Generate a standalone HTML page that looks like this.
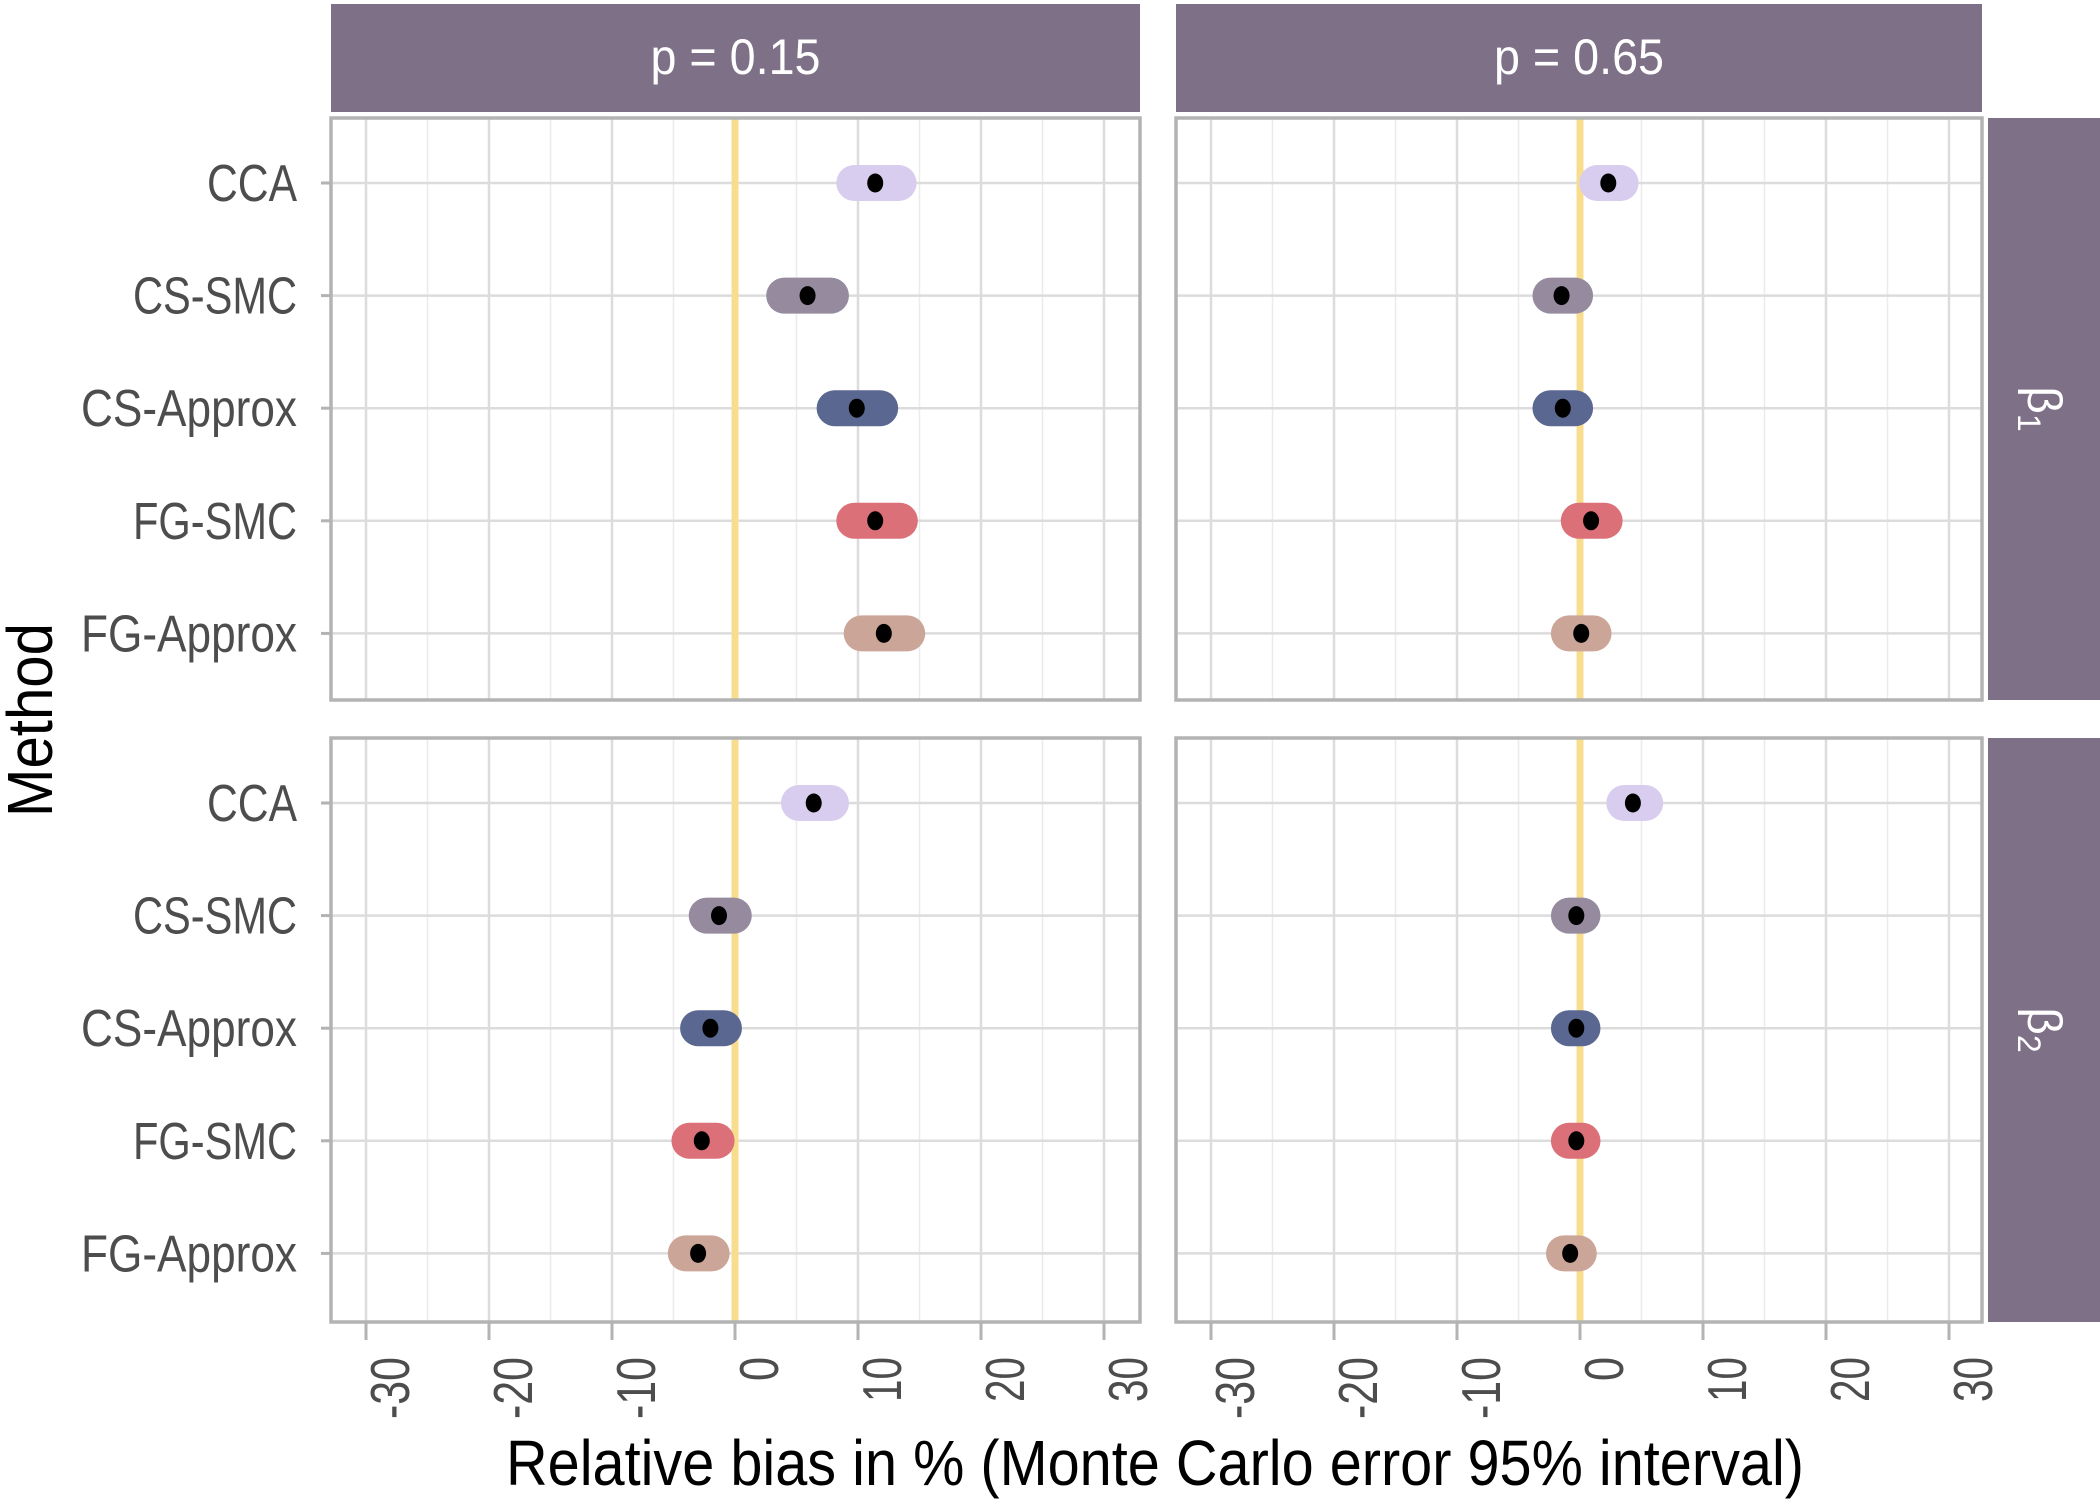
<!DOCTYPE html>
<html><head><meta charset="utf-8"><style>
html,body{margin:0;padding:0;background:#fff}
svg text{font-family:"Liberation Sans",sans-serif}
</style></head><body>
<svg id="chart" width="2100" height="1500" viewBox="0 0 2100 1500" xmlns="http://www.w3.org/2000/svg"></svg>
<script>
const methods = ["CCA","CS-SMC","CS-Approx","FG-SMC","FG-Approx"];
const methodColors = ["#d8cdee","#958a9e","#5a6790","#dc7078","#cba597"];
const xTicks = [-30,-20,-10,0,10,20,30];
const xTickLabels = ["-30","-20","-10","0","10","20","30"];
const colLabels = ["p = 0.15","p = 0.65"];
const rowLabels = ["β1","β2"];
const est_b1_p15 = [11.4,5.9,9.9,11.4,12.1];
const lo_b1_p15  = [9.7,4.0,8.1,9.7,10.3];
const hi_b1_p15  = [13.3,7.8,11.8,13.4,14.0];
const est_b1_p65 = [2.3,-1.5,-1.4,0.9,0.1];
const lo_b1_p65  = [1.4,-2.4,-2.4,-0.1,-0.9];
const hi_b1_p65  = [3.3,-0.4,-0.4,2.0,1.1];
const est_b2_p15 = [6.4,-1.3,-2.0,-2.7,-3.0];
const lo_b2_p15  = [5.2,-2.3,-3.0,-3.7,-4.0];
const hi_b2_p15  = [7.8,-0.1,-0.9,-1.5,-1.9];
const est_b2_p65 = [4.3,-0.3,-0.3,-0.3,-0.8];
const lo_b2_p65  = [3.6,-0.9,-0.9,-0.9,-1.3];
const hi_b2_p65  = [5.3,0.2,0.2,0.2,-0.1];

const NS="http://www.w3.org/2000/svg";
const svg=document.getElementById('chart');
function mk(tag,attrs,parent){const e=document.createElementNS(NS,tag);for(const k in attrs)e.setAttribute(k,attrs[k]);(parent||svg).appendChild(e);return e;}

const panelsX=[[331,1140],[1176,1982]];
const panelsY=[[118,700],[738,1322]];
const zeroX=[735,1580];
const unit=12.3;
const rowStep=112.6;
function xs(c,v){return zeroX[c]+v*unit;}
function ys(r,i){return panelsY[r][0]+65+i*rowStep;}
const data=[[[est_b1_p15,lo_b1_p15,hi_b1_p15],[est_b1_p65,lo_b1_p65,hi_b1_p65]],
            [[est_b2_p15,lo_b2_p15,hi_b2_p15],[est_b2_p65,lo_b2_p65,hi_b2_p65]]];

for(let c=0;c<2;c++){
  const g=mk('g',{});
  
  
  mk('rect',{x:panelsX[c][0],y:4,width:panelsX[c][1]-panelsX[c][0],height:108,fill:'#7d7087'},g);
  const t=mk('text',{x:(panelsX[c][0]+panelsX[c][1])/2,y:74,'text-anchor':'middle','font-size':50,fill:'#fff',textLength:170,lengthAdjust:'spacingAndGlyphs'},g);
  t.textContent=colLabels[c];
}
for(let r=0;r<2;r++){
  const g=mk('g',{});
  
  
  mk('rect',{x:1988,y:panelsY[r][0],width:112,height:panelsY[r][1]-panelsY[r][0],fill:'#7d7087'},g);
  const cy=(panelsY[r][0]+panelsY[r][1])/2;
  const t=mk('text',{x:0,y:0,'text-anchor':'middle','font-size':48,fill:'#fff','font-family':'Liberation Serif',transform:`translate(2028,${cy}) rotate(90)`},g);
  t.innerHTML='β<tspan font-size="32" dy="10">'+(r+1)+'</tspan>';
}

for(let r=0;r<2;r++)for(let c=0;c<2;c++){
  const g=mk('g',{});
  
  
  const [x0,x1]=panelsX[c],[y0,y1]=panelsY[r];
  for(let i=0;i<xTicks.length-1;i++){const v=(xTicks[i]+xTicks[i+1])/2;mk('line',{x1:xs(c,v),x2:xs(c,v),y1:y0,y2:y1,stroke:'#ebebeb','stroke-width':1.5},g);}
  for(const v of xTicks) mk('line',{x1:xs(c,v),x2:xs(c,v),y1:y0,y2:y1,stroke:'#dcdcdc','stroke-width':2.5},g);
  for(let i=0;i<methods.length;i++) mk('line',{x1:x0,x2:x1,y1:ys(r,i),y2:ys(r,i),stroke:'#dcdcdc','stroke-width':2.5},g);
  const z=mk('line',{x1:xs(c,0),x2:xs(c,0),y1:y0,y2:y1,stroke:'#f8dd8e','stroke-width':7},g);
  
  
  const [est,lo,hi]=data[r][c];
  for(let i=0;i<methods.length;i++){
    const y=ys(r,i);
    const l=mk('line',{x1:xs(c,lo[i]),x2:xs(c,hi[i]),y1:y,y2:y,stroke:methodColors[i],'stroke-width':36,'stroke-linecap':'round'},g);
    
    
    const p=mk('ellipse',{cx:xs(c,est[i]),cy:y,rx:8,ry:9.5,fill:'#000'},g);
    
    
  }
  mk('rect',{x:x0,y:y0,width:x1-x0,height:y1-y0,fill:'none',stroke:'#b3b3b3','stroke-width':3.5},g);
  if(c===0){
    for(let i=0;i<methods.length;i++){
      const y=ys(r,i);
      mk('line',{x1:x0-10,x2:x0,y1:y,y2:y,stroke:'#b3b3b3','stroke-width':3},g);
      const t=mk('text',{x:297,y:y+18,'text-anchor':'end','font-size':52,fill:'#4d4d4d'},g);
      
      
      const w={"CCA":90,"CS-SMC":164,"CS-Approx":216,"FG-SMC":164,"FG-Approx":216}[methods[i]];
      t.setAttribute('textLength',w);t.setAttribute('lengthAdjust','spacingAndGlyphs');
      t.textContent=methods[i];
    }
  }
  if(r===1){
    for(let k=0;k<xTicks.length;k++){
      const x=xs(c,xTicks[k]);
      mk('line',{x1:x,x2:x,y1:y1,y2:y1+18,stroke:'#b3b3b3','stroke-width':3},g);
      const t=mk('text',{x:0,y:0,'text-anchor':'end','font-size':55,fill:'#4d4d4d',transform:`translate(${x+43},1357) rotate(-90)`},g);
      
      
      const lbl=xTickLabels[k];
      t.setAttribute('textLength',lbl.length===1?24:(lbl.length===2?45:62));t.setAttribute('lengthAdjust','spacingAndGlyphs');
      t.textContent=lbl;
    }
  }
}
const xt=mk('text',{x:1155,y:1485,'text-anchor':'middle','font-size':64,fill:'#000',textLength:1298,lengthAdjust:'spacingAndGlyphs'});


xt.textContent='Relative bias in % (Monte Carlo error 95% interval)';
const yt=mk('text',{x:0,y:0,'text-anchor':'middle','font-size':64,fill:'#000',textLength:194,lengthAdjust:'spacingAndGlyphs',transform:'translate(52,720) rotate(-90)'});


yt.textContent='Method';
</script>
</body></html>
